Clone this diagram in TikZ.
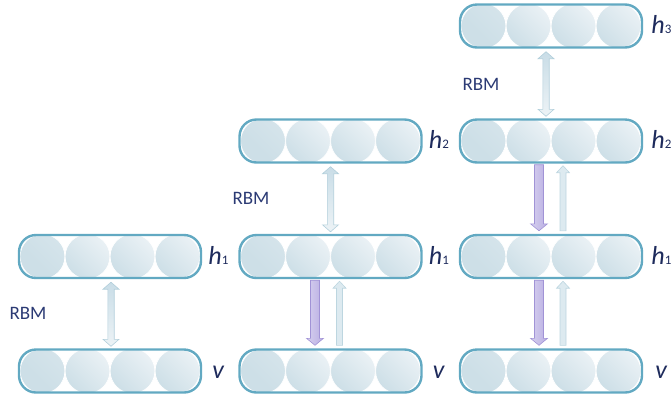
\documentclass[tikz,border=0pt]{standalone}
\usepackage{fontspec}
\setmainfont{Carlito}
\usetikzlibrary{calc}

\definecolor{boxline}{HTML}{62A9C2}
\definecolor{unitdark}{HTML}{CDDFE7}
\definecolor{unitlight}{HTML}{EAF1F5}
\definecolor{inktext}{HTML}{1E2B5C}
\definecolor{rbmtext}{HTML}{2B3A74}
\definecolor{twowaytop}{HTML}{C9DDE7}
\definecolor{twowaybot}{HTML}{EDF3F6}
\definecolor{twowayline}{HTML}{B2CFDB}
\definecolor{downleft}{HTML}{D6D0EF}
\definecolor{downright}{HTML}{B9AEE2}
\definecolor{downline}{HTML}{A193D6}
\definecolor{upfill}{HTML}{DDEAF0}
\definecolor{upline}{HTML}{BDD6E0}

\tikzset{
  layerbox/.style={rectangle, rounded corners=17pt, minimum width=182pt,
    minimum height=43pt, inner sep=0pt, draw=boxline, line width=2.4pt,
    path picture={
      \foreach \dx in {-67.5,-22.5,22.5,67.5}
        \shadedraw[top color=unitlight, bottom color=unitdark, shading angle=-45,
          draw=white, line width=0.7pt]
          ([xshift=\dx pt]path picture bounding box.center) circle[radius=22.4pt];
    }},
  layerlabel/.style={anchor=base west, inner sep=0pt, text=inktext,
    font=\fontsize{26}{26}\selectfont},
  rbm/.style={inner sep=0pt, text=rbmtext, font=\fontsize{19}{19}\selectfont},
  twowayarrow/.style={top color=twowaytop, bottom color=twowaybot,
    draw=twowayline, line width=0.6pt, line join=miter},
  passdownarrow/.style={left color=downleft, right color=downright,
    draw=downline, line width=0.6pt, line join=miter},
  passuparrow/.style={fill=upfill, draw=upline, line width=0.6pt, line join=miter}
}

% layer of four units: name, centre x, centre y
\newcommand\layer[3]{\node[layerbox] (#1) at (#2,#3) {};}
% italic h with an upright index
\newcommand\hsub[1]{{\itshape h}{\fontsize{13}{13}\selectfont #1}}
% wide double-headed arrow between two layers: upper, lower, x offset
\newcommand\twoway[3]{%
  \shadedraw[twowayarrow] let \p1=($(#1.south)+(#3,0)$), \p2=($(#2.north)+(#3,0)$) in
    (\x1,\y1-3pt) -- (\x1+8pt,\y1-10pt) -- (\x1+3.2pt,\y1-10pt) --
    (\x1+3.2pt,\y2+9pt) -- (\x1+8pt,\y2+9pt) -- (\x1,\y2+2pt) --
    (\x1-8pt,\y2+9pt) -- (\x1-3.2pt,\y2+9pt) -- (\x1-3.2pt,\y1-10pt) --
    (\x1-8pt,\y1-10pt) -- cycle;}
% downward pass arrow: upper, lower, x offset
\newcommand\passdown[3]{%
  \shadedraw[passdownarrow] let \p1=($(#1.south)+(#3,0)$), \p2=($(#2.north)+(#3,0)$) in
    (\x1-4.5pt,\y1-1pt) -- (\x1+4.5pt,\y1-1pt) -- (\x1+4.5pt,\y2+10pt) --
    (\x1+8.5pt,\y2+10pt) -- (\x1,\y2+3pt) -- (\x1-8.5pt,\y2+10pt) --
    (\x1-4.5pt,\y2+10pt) -- cycle;}
% upward pass arrow: upper, lower, x offset
\newcommand\passup[3]{%
  \filldraw[passuparrow] let \p1=($(#1.south)+(#3,0)$), \p2=($(#2.north)+(#3,0)$) in
    (\x1,\y1-2pt) -- (\x1+6.5pt,\y1-9pt) -- (\x1+3pt,\y1-9pt) --
    (\x1+3pt,\y2+3pt) -- (\x1-3pt,\y2+3pt) -- (\x1-3pt,\y1-9pt) --
    (\x1-6.5pt,\y1-9pt) -- cycle;}

\begin{document}
\begin{tikzpicture}[x=1pt, y=-1pt]
\useasboundingbox (0,0) rectangle (671,400);

% first stage: one RBM
\layer{aH1}{110}{256.5}
\layer{aV}{110}{371}
% second stage
\layer{bH2}{330.5}{141}
\layer{bH1}{330.5}{256.5}
\layer{bV}{330.5}{371}
% third stage
\layer{cH3}{551}{26}
\layer{cH2}{551}{141}
\layer{cH1}{551}{256.5}
\layer{cV}{551}{371}

% layer names
\node[layerlabel] (aH1l) at ($(aH1.east)+(6,7.5)$) {\hsub{1}};
\node[layerlabel] (aVl)  at ($(aV.east)+(10,7.5)$) {\itshape v};
\node[layerlabel] (bH2l) at ($(bH2.east)+(6,7.5)$) {\hsub{2}};
\node[layerlabel] (bH1l) at ($(bH1.east)+(6,7.5)$) {\hsub{1}};
\node[layerlabel] (bVl)  at ($(bV.east)+(10,7.5)$) {\itshape v};
\node[layerlabel] (cH3l) at ($(cH3.east)+(8,7.5)$) {\hsub{3}};
\node[layerlabel] (cH2l) at ($(cH2.east)+(8,7.5)$) {\hsub{2}};
\node[layerlabel] (cH1l) at ($(cH1.east)+(8,7.5)$) {\hsub{1}};
\node[layerlabel] (cVl)  at ($(cV.east)+(12,7.5)$) {\itshape v};

% RBM captions
\node[rbm] (rbmA) at (28,313) {RBM};
\node[rbm] (rbmB) at (251,198) {RBM};
\node[rbm] (rbmC) at (481,84) {RBM};

% undirected RBM connections
\twoway{aH1}{aV}{1}
\twoway{bH2}{bH1}{0}
\twoway{cH3}{cH2}{-5}

% directed passes between trained layers
\passdown{bH1}{bV}{-15.5}
\passup{bH1}{bV}{9}
\passdown{cH2}{cH1}{-12}
\passup{cH2}{cH1}{12}
\passdown{cH1}{cV}{-12}
\passup{cH1}{cV}{12}
\end{tikzpicture}
\end{document}
